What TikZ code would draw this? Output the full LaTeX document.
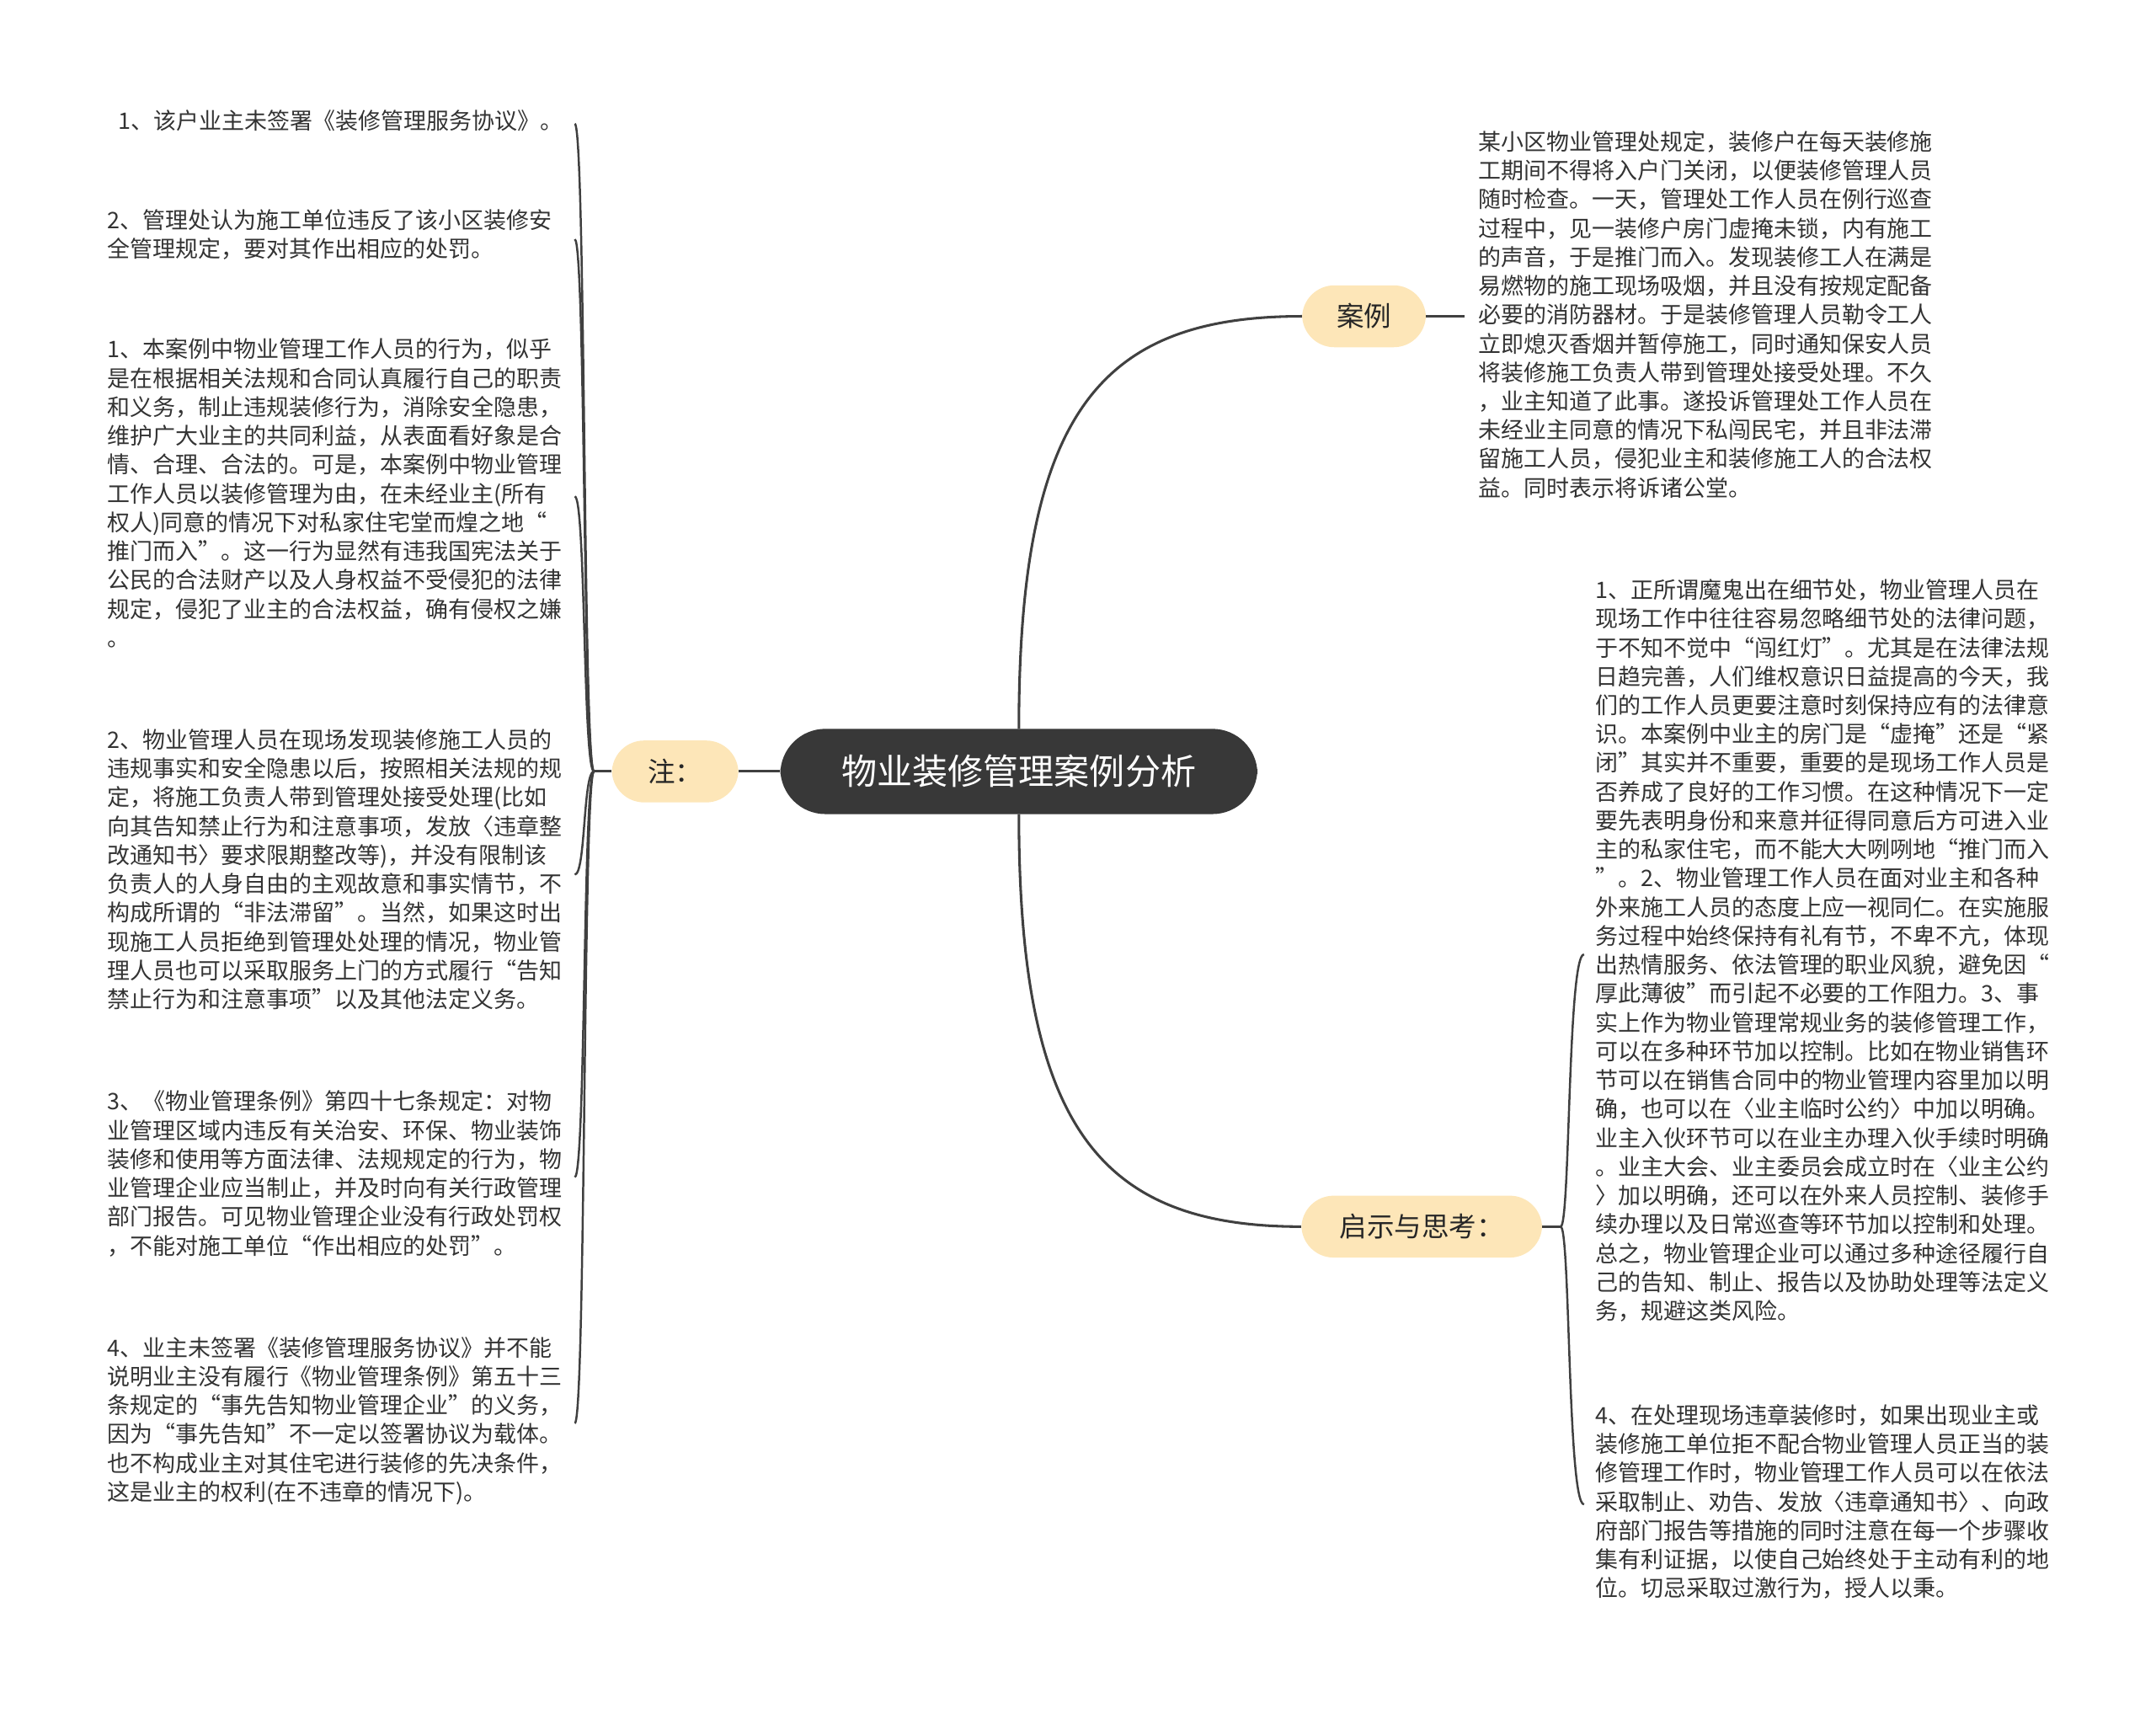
\documentclass[tikz,border=0pt]{standalone}
\usepackage{fontspec}
\setmainfont{Noto Sans CJK SC}
\begin{document}
\begin{tikzpicture}[x=0.03cm,y=-0.03cm,
  leaf/.style={anchor=north west,inner sep=0pt,align=left,text=black!80,font=\fontsize{14.1}{17.9}\selectfont},
  topic/.style={rounded corners=20pt,fill=yellow!30!orange!25,minimum height=45*0.03cm,font=\fontsize{17}{19}\selectfont,text=black!85},
  con/.style={draw=black!75,line width=1.6pt}]
\useasboundingbox (0,0) rectangle (1568,1246);
\node[rounded corners=28pt,fill=black!78,text=white,minimum width=347*0.03cm,minimum height=62*0.03cm,font=\fontsize{22}{24}\selectfont] (c) at (741,561) {物业装修管理案例分析};
\node[topic,minimum width=92*0.03cm] (zhu) at (491,561) {注：};
\node[topic,minimum width=90*0.03cm] (al) at (992,230) {案例};
\node[topic,minimum width=175*0.03cm] (qs) at (1034,892) {启示与思考：};
\draw[con] (c.west) -- (zhu.east);
\draw[con] (741,530) .. controls (741,300) and (800,230) .. (al.west);
\draw[con] (741,592) .. controls (741,820) and (800,892) .. (qs.west);
\coordinate (zh) at (432,561);
\draw[con] (zhu.west) -- (zh);
\coordinate (ah) at (1065,230);
\draw[con] (al.east) -- (ah);
\coordinate (qh) at (1135,892);
\draw[con] (qs.east) -- (qh);
% left leaves
\node[leaf] (l1) at (86,80) {1、该户业主未签署《装修管理服务协议》。};
\node[leaf] (l2) at (78,152) {2、管理处认为施工单位违反了该小区装修安\\全管理规定，要对其作出相应的处罚。};
\node[leaf] (l3) at (78,246) {1、本案例中物业管理工作人员的行为，似乎\\是在根据相关法规和合同认真履行自己的职责\\和义务，制止违规装修行为，消除安全隐患，\\维护广大业主的共同利益，从表面看好象是合\\情、合理、合法的。可是，本案例中物业管理\\工作人员以装修管理为由，在未经业主(所有\\权人)同意的情况下对私家住宅堂而煌之地“\\推门而入”。这一行为显然有违我国宪法关于\\公民的合法财产以及人身权益不受侵犯的法律\\规定，侵犯了业主的合法权益，确有侵权之嫌\\。};
\node[leaf] (l4) at (78,530) {2、物业管理人员在现场发现装修施工人员的\\违规事实和安全隐患以后，按照相关法规的规\\定，将施工负责人带到管理处接受处理(比如\\向其告知禁止行为和注意事项，发放〈违章整\\改通知书〉要求限期整改等)，并没有限制该\\负责人的人身自由的主观故意和事实情节，不\\构成所谓的“非法滞留”。当然，如果这时出\\现施工人员拒绝到管理处处理的情况，物业管\\理人员也可以采取服务上门的方式履行“告知\\禁止行为和注意事项”以及其他法定义务。};
\node[leaf] (l5) at (78,793) {3、《物业管理条例》第四十七条规定：对物\\业管理区域内违反有关治安、环保、物业装饰\\装修和使用等方面法律、法规规定的行为，物\\业管理企业应当制止，并及时向有关行政管理\\部门报告。可见物业管理企业没有行政处罚权\\，不能对施工单位“作出相应的处罚”。};
\node[leaf] (l6) at (78,972) {4、业主未签署《装修管理服务协议》并不能\\说明业主没有履行《物业管理条例》第五十三\\条规定的“事先告知物业管理企业”的义务，\\因为“事先告知”不一定以签署协议为载体。\\也不构成业主对其住宅进行装修的先决条件，\\这是业主的权利(在不违章的情况下)。};
\foreach \n/\m in {l1/90,l2/174,l3/361,l4/636,l5/856,l6/1035}{
  \coordinate (e\n) at (418,\m);
  \draw[con,line width=1.3pt] (zh) .. controls (424,561) and (426,\m) .. (e\n);
}
% right leaves
\node[leaf] (a1) at (1075,95) {某小区物业管理处规定，装修户在每天装修施\\工期间不得将入户门关闭，以便装修管理人员\\随时检查。一天，管理处工作人员在例行巡查\\过程中，见一装修户房门虚掩未锁，内有施工\\的声音，于是推门而入。发现装修工人在满是\\易燃物的施工现场吸烟，并且没有按规定配备\\必要的消防器材。于是装修管理人员勒令工人\\立即熄灭香烟并暂停施工，同时通知保安人员\\将装修施工负责人带到管理处接受处理。不久\\，业主知道了此事。遂投诉管理处工作人员在\\未经业主同意的情况下私闯民宅，并且非法滞\\留施工人员，侵犯业主和装修施工人的合法权\\益。同时表示将诉诸公堂。};
\node[leaf] (r1) at (1160,421) {1、正所谓魔鬼出在细节处，物业管理人员在\\现场工作中往往容易忽略细节处的法律问题，\\于不知不觉中“闯红灯”。尤其是在法律法规\\日趋完善，人们维权意识日益提高的今天，我\\们的工作人员更要注意时刻保持应有的法律意\\识。本案例中业主的房门是“虚掩”还是“紧\\闭”其实并不重要，重要的是现场工作人员是\\否养成了良好的工作习惯。在这种情况下一定\\要先表明身份和来意并征得同意后方可进入业\\主的私家住宅，而不能大大咧咧地“推门而入\\”。2、物业管理工作人员在面对业主和各种\\外来施工人员的态度上应一视同仁。在实施服\\务过程中始终保持有礼有节，不卑不亢，体现\\出热情服务、依法管理的职业风貌，避免因“\\厚此薄彼”而引起不必要的工作阻力。3、事\\实上作为物业管理常规业务的装修管理工作，\\可以在多种环节加以控制。比如在物业销售环\\节可以在销售合同中的物业管理内容里加以明\\确，也可以在〈业主临时公约〉中加以明确。\\业主入伙环节可以在业主办理入伙手续时明确\\。业主大会、业主委员会成立时在〈业主公约\\〉加以明确，还可以在外来人员控制、装修手\\续办理以及日常巡查等环节加以控制和处理。\\总之，物业管理企业可以通过多种途径履行自\\己的告知、制止、报告以及协助处理等法定义\\务，规避这类风险。};
\node[leaf] (r2) at (1160,1021) {4、在处理现场违章装修时，如果出现业主或\\装修施工单位拒不配合物业管理人员正当的装\\修管理工作时，物业管理工作人员可以在依法\\采取制止、劝告、发放〈违章通知书〉、向政\\府部门报告等措施的同时注意在每一个步骤收\\集有利证据，以使自己始终处于主动有利的地\\位。切忌采取过激行为，授人以秉。};
\coordinate (er1) at (1152,694);
\coordinate (er2) at (1152,1094);
\draw[con,line width=1.3pt] (qh) .. controls (1142,892) and (1140,694) .. (er1);
\draw[con,line width=1.3pt] (qh) .. controls (1142,892) and (1140,1094) .. (er2);
\end{tikzpicture}
\end{document}
